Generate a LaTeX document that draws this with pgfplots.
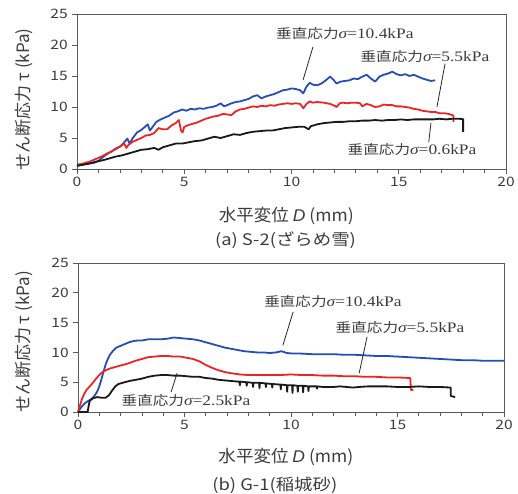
\documentclass[border=0pt]{standalone}
\usepackage{fontspec}
\setmainfont{Noto Sans CJK JP}
\newfontfamily\annfont{Liberation Serif}
\newfontfamily\itfont{Liberation Sans}
\usepackage{pgfplots}
\pgfplotsset{compat=1.18}
\definecolor{cblue}{RGB}{36,78,182}
\definecolor{cred}{RGB}{238,36,36}
\definecolor{cblack}{RGB}{25,25,25}
\definecolor{axgray}{RGB}{90,90,90}
\definecolor{txtgray}{RGB}{60,60,60}

\newcommand{\ann}[1]{{\fontsize{13}{15}\selectfont 垂直応力}{\annfont\fontsize{14.5}{16}\selectfont{\itshape σ}=#1kPa}}

\tikzset{
  annot/.style={font=\fontsize{13}{15}\selectfont, text=txtgray, xscale=1.2, inner sep=0pt},
  leader/.style={draw=black!85, line width=0.8pt},
  caption/.style={font=\fontsize{16}{18}\selectfont, text=txtgray, xscale=1.15},
}
\pgfplotsset{
  shearax/.style={
    scale only axis,
    xmin=0, xmax=20, ymin=0, ymax=25,
    xtick={0,5,10,15,20}, ytick={0,5,10,15,20,25},
    minor x tick num=4,
    tick align=outside, xtick pos=bottom, ytick pos=left,
    major tick length=5pt, minor tick length=4pt,
    axis line style={draw=axgray, line width=0.8pt},
    every tick/.style={draw=axgray, line width=0.8pt},
    tick label style={font=\fontsize{13}{15}\selectfont, text=txtgray, xscale=1.2},
    /pgf/number format/assume math mode=true,
    label style={font=\fontsize{17}{20}\selectfont, text=txtgray},
    xlabel style={xscale=1.03},
    every axis plot/.append style={line width=1.8pt, no marks, line join=round},
    clip=false,
  },
}

\begin{document}
\begin{tikzpicture}
\useasboundingbox (0,0) rectangle (518pt,493pt);

%% (a) S-2 (granular snow)
\begin{axis}[shearax,
  at={(77pt,324pt)}, anchor=south west,
  width=429pt, height=155pt,
  xlabel={水平変位 {\itfont\itshape D} (mm)},
  ylabel={せん断応力 τ (kPa)},
  xlabel style={at={(axis description cs:0.488,-0.303)}, anchor=center},
  ylabel style={at={(axis description cs:-0.124,0.45)}, anchor=center},
]
% sigma = 10.4 kPa
\addplot[cblue] coordinates {
(0.0,0.7) (0.2,0.8) (0.4,0.75) (0.6,0.9) (0.8,1.0) (1.0,1.3) (1.2,1.9) (1.4,2.4)
(1.6,2.8) (1.8,3.3) (2.0,3.6) (2.2,4.3) (2.35,4.9) (2.45,4.1) (2.6,5.0) (2.8,5.9)
(3.0,6.3) (3.2,6.9) (3.3,7.2) (3.4,6.2) (3.55,6.9) (3.7,7.6) (3.9,8.0) (4.1,8.3)
(4.3,8.6) (4.5,9.1) (4.7,9.3) (4.9,9.6) (5.1,9.4) (5.3,9.7) (5.5,9.6) (5.7,9.8)
(5.9,9.7) (6.1,9.9) (6.3,10.0) (6.5,10.2) (6.7,10.6) (6.85,10.1) (7.0,10.3) (7.2,10.6)
(7.4,10.8) (7.6,10.9) (7.8,11.1) (8.0,11.3) (8.2,11.7) (8.4,11.9) (8.6,11.4) (8.8,11.7)
(9.0,11.9) (9.2,12.1) (9.4,12.4) (9.6,12.7) (9.8,12.8) (10.0,13.0) (10.2,12.9) (10.4,12.7)
(10.55,12.2) (10.7,13.3) (10.85,13.9) (11.0,13.6) (11.2,13.5) (11.4,13.8) (11.6,14.3) (11.8,14.9)
(11.95,14.4) (12.1,13.8) (12.3,14.1) (12.5,14.2) (12.7,14.3) (12.9,14.6) (13.1,14.5) (13.3,14.9)
(13.5,15.2) (13.7,14.6) (13.9,14.1) (14.1,14.9) (14.3,15.2) (14.5,15.4) (14.7,15.7) (14.9,15.3)
(15.1,15.1) (15.3,15.3) (15.5,15.0) (15.7,15.2) (15.9,14.9) (16.1,14.6) (16.3,14.4) (16.5,14.2)
(16.7,14.3)
};
% sigma = 5.5 kPa
\addplot[cred] coordinates {
(0.0,0.5) (0.2,0.8) (0.4,1.0) (0.6,1.2) (0.8,1.5) (1.0,1.8) (1.2,2.1) (1.4,2.5)
(1.6,2.8) (1.8,3.2) (2.0,3.6) (2.2,4.1) (2.3,3.4) (2.4,3.9) (2.6,4.4) (2.8,4.7)
(3.0,5.0) (3.2,5.4) (3.4,5.5) (3.6,5.8) (3.8,6.6) (4.0,6.4) (4.2,6.4) (4.4,7.0)
(4.6,7.4) (4.75,7.9) (4.85,6.2) (4.92,5.9) (5.0,6.8) (5.2,7.1) (5.4,7.3) (5.6,7.5)
(5.8,7.8) (6.0,8.1) (6.2,8.3) (6.4,8.5) (6.6,8.6) (6.8,8.9) (7.0,8.8) (7.2,8.7)
(7.4,9.3) (7.6,9.6) (7.8,9.7) (8.0,9.9) (8.2,10.1) (8.4,10.0) (8.6,10.2) (8.8,10.1)
(9.0,10.3) (9.2,10.2) (9.4,10.4) (9.6,10.5) (9.8,10.6) (10.0,10.5) (10.2,10.6) (10.4,10.5)
(10.55,9.8) (10.7,10.5) (10.85,10.9) (11.0,10.7) (11.2,10.8) (11.5,10.7) (11.8,10.5) (12.0,10.2)
(12.1,10.0) (12.25,10.6) (12.4,10.7) (12.6,10.6) (12.8,10.7) (13.0,10.7) (13.2,10.6) (13.3,10.1)
(13.5,10.5) (13.7,10.3) (13.9,10.0) (14.1,10.1) (14.3,10.4) (14.5,10.3) (14.7,10.3) (14.9,10.1)
(15.1,10.1) (15.3,10.0) (15.5,9.9) (15.7,9.7) (15.9,9.6) (16.1,9.4) (16.3,9.3) (16.5,9.2)
(16.7,9.2) (16.9,9.0) (17.1,9.0) (17.3,8.9) (17.5,8.7) (17.55,8.6) (17.55,7.6)
};
% sigma = 0.6 kPa
\addplot[cblack] coordinates {
(0.0,0.5) (0.3,0.7) (0.6,0.9) (0.9,1.2) (1.2,1.4) (1.5,1.7) (1.8,2.0) (2.1,2.2)
(2.4,2.5) (2.7,2.8) (3.0,3.1) (3.3,3.2) (3.6,3.4) (3.8,3.1) (4.0,3.5) (4.3,3.8)
(4.6,4.1) (4.9,4.1) (5.2,4.3) (5.5,4.5) (5.8,4.6) (6.1,4.9) (6.4,5.2) (6.7,5.0)
(7.0,5.3) (7.3,5.6) (7.6,5.5) (7.9,5.8) (8.2,6.0) (8.5,6.1) (8.8,6.2) (9.1,6.2)
(9.4,6.4) (9.7,6.6) (10.0,6.7) (10.3,6.8) (10.6,6.8) (10.8,6.4) (10.9,6.9) (11.2,7.2)
(11.5,7.4) (11.8,7.5) (12.1,7.6) (12.4,7.6) (12.7,7.7) (13.0,7.7) (13.3,7.8) (13.6,7.8)
(13.9,7.9) (14.2,7.8) (14.5,7.9) (14.8,7.9) (15.1,8.0) (15.4,7.9) (15.7,8.0) (16.0,8.0)
(16.3,8.0) (16.6,8.0) (16.9,8.1) (17.2,8.0) (17.5,8.1) (17.8,8.1) (18.0,8.05) (18.0,6.0)
};
\node[annot] at (axis cs:12.49,21.9) {\ann{10.4}};
\draw[leader] (axis cs:11.0,19.7) -- (axis cs:10.54,14.35);
\node[annot] at (axis cs:16.22,18.2) {\ann{5.5}};
\draw[leader] (axis cs:17.16,17.0) -- (axis cs:16.78,10.0);
\node[annot] at (axis cs:15.62,3.06) {\ann{0.6}};
\draw[leader] (axis cs:16.4,4.35) -- (axis cs:16.5,7.4);
\node[caption] at (axis description cs:0.486,-0.458) {(a) S-2(ざらめ雪)};
\end{axis}

%% (b) G-1 (Inagi sand)
\begin{axis}[shearax,
  at={(78pt,81pt)}, anchor=south west,
  width=426pt, height=149pt,
  xlabel={水平変位 {\itfont\itshape D} (mm)},
  ylabel={せん断応力 τ (kPa)},
  xlabel style={at={(axis description cs:0.488,-0.302)}, anchor=center},
  ylabel style={at={(axis description cs:-0.127,0.47)}, anchor=center},
]
% sigma = 10.4 kPa
\addplot[cblue] coordinates {
(0.0,0.0) (0.15,0.8) (0.3,1.4) (0.45,1.8) (0.6,2.1) (0.75,2.6) (0.9,3.4) (1.0,4.3)
(1.1,5.5) (1.2,6.8) (1.3,8.0) (1.4,8.9) (1.5,9.6) (1.65,10.3) (1.8,10.8) (2.0,11.1)
(2.2,11.4) (2.4,11.7) (2.6,11.9) (2.8,12.0) (3.0,12.0) (3.3,12.2) (3.6,12.2) (3.9,12.2)
(4.2,12.3) (4.5,12.5) (4.8,12.4) (5.1,12.3) (5.4,12.2) (5.7,12.0) (6.0,11.7) (6.3,11.4)
(6.6,11.1) (6.9,10.8) (7.2,10.6) (7.5,10.4) (7.8,10.2) (8.1,10.1) (8.4,10.0) (8.7,10.0)
(9.0,9.9) (9.3,10.0) (9.55,10.2) (9.8,9.9) (10.1,9.8) (10.5,9.8) (11.0,9.7) (11.5,9.7)
(12.0,9.7) (12.5,9.6) (13.0,9.6) (13.5,9.5) (14.0,9.4) (14.5,9.4) (15.0,9.3) (15.5,9.2)
(16.0,9.1) (16.5,9.0) (17.0,8.9) (17.5,8.8) (18.0,8.7) (18.5,8.7) (19.0,8.6) (19.5,8.6)
(20.0,8.6)
};
% sigma = 5.5 kPa
\addplot[cred] coordinates {
(0.0,0.0) (0.1,1.2) (0.2,2.3) (0.3,3.1) (0.4,3.7) (0.55,4.3) (0.7,4.9) (0.85,5.6)
(1.0,6.2) (1.15,6.7) (1.3,7.0) (1.5,7.3) (1.8,7.6) (2.1,7.9) (2.4,8.2) (2.7,8.6)
(3.0,8.9) (3.3,9.2) (3.6,9.3) (3.9,9.4) (4.2,9.4) (4.5,9.3) (4.8,9.3) (5.1,9.1)
(5.4,8.9) (5.7,8.5) (6.0,7.9) (6.3,7.4) (6.6,7.0) (6.9,6.7) (7.2,6.5) (7.6,6.3)
(8.0,6.2) (8.5,6.2) (9.0,6.2) (9.5,6.2) (10.0,6.3) (10.5,6.2) (11.0,6.2) (11.5,6.1)
(12.0,6.1) (12.5,6.0) (13.0,6.0) (13.5,5.9) (14.0,5.9) (14.5,5.8) (15.0,5.8) (15.6,5.7)
(15.63,3.7) (15.75,3.7)
};
% sigma = 2.5 kPa
\addplot[cblack] coordinates {
(0.0,0.0) (0.45,0.0) (0.5,1.0) (0.55,1.9) (0.7,2.3) (0.9,2.5) (1.1,2.4) (1.3,2.4)
(1.45,2.8) (1.6,3.6) (1.75,4.3) (1.9,4.7) (2.1,4.9) (2.4,5.2) (2.7,5.4) (3.0,5.6)
(3.3,5.9) (3.6,6.1) (3.9,6.2) (4.2,6.2) (4.5,6.1) (4.8,6.1) (5.1,6.0) (5.4,5.9)
(5.7,5.9) (6.0,5.7) (6.3,5.6) (6.6,5.4) (6.9,5.3) (7.2,5.2) (7.5,5.1)
(7.58,5.1) (7.6,4.5) (7.62,5.1) (7.9,5.0) (7.92,4.4) (7.94,5.0)
(8.2,4.9) (8.22,4.2) (8.24,4.9) (8.5,4.9) (8.52,4.0) (8.54,4.9)
(8.8,4.8) (8.82,4.2) (8.84,4.8) (9.1,4.7) (9.12,4.1) (9.14,4.7)
(9.5,4.6) (9.52,3.8) (9.54,4.6) (9.8,4.5) (9.82,3.4) (9.84,4.5)
(10.05,4.5) (10.07,3.2) (10.09,4.5) (10.3,4.4) (10.32,3.4) (10.34,4.4)
(10.55,4.4) (10.57,3.3) (10.59,4.4) (10.8,4.3) (10.82,3.5) (10.84,4.3)
(11.2,4.3) (11.22,3.9) (11.24,4.3) (11.5,4.2)
(12.0,4.2) (12.3,4.3) (12.6,4.2) (12.9,4.1) (13.2,4.2) (13.6,4.3) (14.0,4.3) (14.5,4.3)
(15.0,4.2) (15.5,4.2) (16.0,4.3) (16.5,4.2) (17.0,4.2) (17.5,4.1) (17.5,2.7) (17.7,2.5)
};
\node[annot] at (axis cs:11.97,18.46) {\ann{10.4}};
\draw[leader] (axis cs:10.1,16.8) -- (axis cs:9.62,11.2);
\node[annot] at (axis cs:15.12,14.1) {\ann{5.5}};
\draw[leader] (axis cs:13.57,12.6) -- (axis cs:13.2,6.5);
\node[annot] at (axis cs:5.07,2.0) {\ann{2.5}};
\draw[leader] (axis cs:4.37,3.36) -- (axis cs:4.65,6.5);
\node[caption] at (axis description cs:0.462,-0.49) {(b) G-1(稲城砂)};
\end{axis}
\end{tikzpicture}
\end{document}
